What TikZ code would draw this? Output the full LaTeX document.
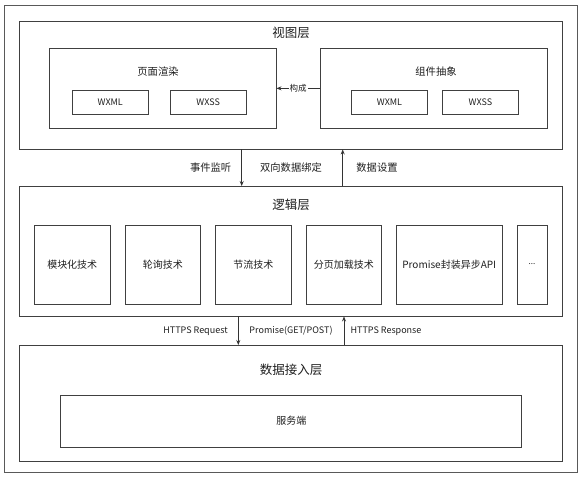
\documentclass[tikz,border=0pt]{standalone}
\usepackage{fontspec}
\setmainfont{Noto Sans CJK SC}
\usetikzlibrary{arrows.meta,positioning,calc}

\begin{document}
\begin{tikzpicture}[
        x=1pt, y=-1pt,
        >=Stealth,
        every node/.style={text=black!88},
        layer/.style={
            draw=black!75,
            line width=0.9pt,
            minimum width=543pt,
            inner sep=0pt
        },
        group/.style={
            draw=black!75,
            line width=0.9pt,
            minimum width=227pt,
            minimum height=79.3pt,
            inner sep=0pt
        },
        tag/.style={
            draw=black!75,
            line width=0.9pt,
            minimum width=76pt,
            minimum height=24pt,
            inner sep=0pt,
            font=\fontsize{9}{11}\selectfont
        },
        tech/.style={
            draw=black!75,
            line width=0.9pt,
            minimum width=75.5pt,
            minimum height=79pt,
            inner sep=0pt,
            font=\fontsize{10}{12}\selectfont
        },
        layertitle/.style={font=\fontsize{12.5}{15}\selectfont, inner sep=0pt},
        grouptitle/.style={font=\fontsize{10.3}{12}\selectfont, inner sep=0pt},
        note/.style={font=\fontsize{10.3}{12}\selectfont, inner sep=1pt},
        latin/.style={font=\fontsize{9}{11}\selectfont, inner sep=1pt},
        line/.style={draw=black!80, -{Stealth[length=5pt,width=4pt]}, line width=0.8pt}
    ]
        \useasboundingbox (0,0) rectangle (582,478);

        % outer frame and the three layers
        \node[layer, minimum width=573pt, minimum height=467pt, draw=black!65] (frame) at (290.5,238.5) {};
        \node[layer, minimum height=127.5pt] (view) at (291,85.25) {};
        \node[layer, minimum height=129.5pt] (logic) at (291,251.25) {};
        \node[layer, minimum height=116pt] (data) at (291,403.5) {};

        \node[layertitle] (viewtitle) at ($(view.north)+(0,11.5)$) {视图层};
        \node[layertitle] (logictitle) at ($(logic.north)+(0,18.5)$) {逻辑层};
        \node[layertitle] (datatitle) at ($(data.north)+(0,25.2)$) {数据接入层};

        % view layer
        \node[group] (render) at (162.5,88.35) {};
        \node[group] (comp) at (433.5,88.35) {};
        \node[grouptitle] (rendertitle) at (158,72) {页面渲染};
        \node[grouptitle] (comptitle) at (436,72) {组件抽象};
        \node[tag] (wxmlA) at (110.25,102) {WXML};
        \node[tag, right=21pt of wxmlA] (wxssA) {WXSS};
        \node[tag] (wxmlB) at (389.5,102) {WXML};
        \node[tag, right=14pt of wxmlB] (wxssB) {WXSS};

        \draw[line] (comp.west) -- node[fill=white, inner sep=1pt, font=\fontsize{8.5}{10}\selectfont] (build) {构成} (render.east);

        % logic layer
        \node[tech] (modular) at (72.25,264.5) {模块化技术};
        \node[tech, right=14.1pt of modular] (polling) {轮询技术};
        \node[tech, right=14.1pt of polling] (throttle) {节流技术};
        \node[tech, right=14.1pt of throttle] (paging) {分页加载技术};
        \node[tech, right=14.1pt of paging, minimum width=105.5pt] (promise) {Promise封装异步API};
        \node[tech, right=14.1pt of promise, minimum width=30pt, font=\fontsize{8}{10}\selectfont] (more) {...};

        % data access layer
        \node[tech, minimum width=461pt, minimum height=52pt] (server) at (291.3,421) {服务端};

        % connectors between the layers
        \coordinate (xdown) at (241.7,0);
        \coordinate (xup) at (342.7,0);
        \coordinate (xreq) at (238.3,0);
        \coordinate (xresp) at (344,0);

        \draw[line] (view.south -| xdown) -- (logic.north -| xdown);
        \draw[line] (logic.north -| xup) -- (view.south -| xup);
        \draw[line] (logic.south -| xreq) -- (data.north -| xreq);
        \draw[line] (data.north -| xresp) -- (logic.south -| xresp);

        \node[note] (listen) at (210.6,168) {事件监听};
        \node[note] (binding) at (291,168) {双向数据绑定};
        \node[note] (setdata) at (377,168) {数据设置};
        \node[latin] (request) at (195.5,330.7) {HTTPS Request};
        \node[latin] (method) at (291,330.7) {Promise(GET/POST)};
        \node[latin] (response) at (386,330.7) {HTTPS Response};
    \end{tikzpicture}
\end{document}
